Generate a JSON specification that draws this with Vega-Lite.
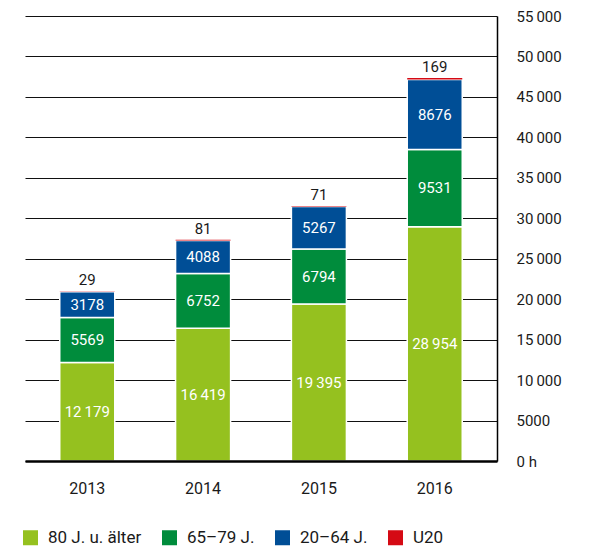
{
  "$schema": "https://vega.github.io/schema/vega-lite/v6.json",
  "width": 472,
  "height": 445,
  "autosize": {"type": "none"},
  "padding": {"left": 25, "top": 16, "right": 92, "bottom": 88},
  "background": "white",
  "config": {"font": "Roboto", "view": {"stroke": null}},
  "data": {
    "values": [
      {"year": "2013", "group": "80 J. u. älter", "k": 1, "value": 12179},
      {"year": "2013", "group": "65–79 J.", "k": 2, "value": 5569},
      {"year": "2013", "group": "20–64 J.", "k": 3, "value": 3178},
      {"year": "2014", "group": "80 J. u. älter", "k": 1, "value": 16419},
      {"year": "2014", "group": "65–79 J.", "k": 2, "value": 6752},
      {"year": "2014", "group": "20–64 J.", "k": 3, "value": 4088},
      {"year": "2015", "group": "80 J. u. älter", "k": 1, "value": 19395},
      {"year": "2015", "group": "65–79 J.", "k": 2, "value": 6794},
      {"year": "2015", "group": "20–64 J.", "k": 3, "value": 5267},
      {"year": "2016", "group": "80 J. u. älter", "k": 1, "value": 28954},
      {"year": "2016", "group": "65–79 J.", "k": 2, "value": 9531},
      {"year": "2016", "group": "20–64 J.", "k": 3, "value": 8676},
      {"year": "2013", "group": "U20", "k": 4, "value": 29},
      {"year": "2014", "group": "U20", "k": 4, "value": 81},
      {"year": "2015", "group": "U20", "k": 4, "value": 71},
      {"year": "2016", "group": "U20", "k": 4, "value": 169}
    ]
  },
  "transform": [
    {"stack": "value", "groupby": ["year"], "sort": [{"field": "k"}], "as": ["y0", "y1"]},
    {"calculate": "(datum.y0 + datum.y1) / 2", "as": "ymid"},
    {"calculate": "datum.value >= 10000 ? replace(format(datum.value, ','), ',', '\u2009') : format(datum.value, 'd')", "as": "label"}
  ],
  "encoding": {
    "x": {
      "field": "year",
      "type": "nominal",
      "scale": {"paddingInner": 0.525, "paddingOuter": 0.3},
      "axis": {
        "orient": "bottom",
        "title": null,
        "labelAngle": 0,
        "domainColor": "black",
        "domainWidth": 2.5,
        "ticks": false,
        "labelFontSize": 16,
        "labelColor": "#1a1a1a",
        "labelPadding": 19,
        "zindex": 2
      }
    }
  },
  "layer": [
    {
      "mark": {"type": "bar", "stroke": "white", "minBandSize": 2},
      "encoding": {
        "y": {
          "field": "y0",
          "type": "quantitative",
          "scale": {"domain": [0, 55000], "nice": false},
          "axis": {
            "orient": "right",
            "title": null,
            "values": [0, 5000, 10000, 15000, 20000, 25000, 30000, 35000, 40000, 45000, 50000, 55000],
            "labelExpr": "datum.value == 0 ? '0 h' : datum.value >= 10000 ? replace(format(datum.value, ','), ',', '\u2009') : format(datum.value, 'd')",
            "grid": true,
            "gridColor": "#111",
            "gridWidth": 1,
            "domainColor": "black",
            "domainWidth": 1.5,
            "ticks": false,
            "labelFontSize": 15,
            "labelColor": "#1a1a1a",
            "labelAlign": "left",
            "labelPadding": 19
          }
        },
        "y2": {"field": "y1"},
        "order": {"field": "k"},
        "color": {
          "field": "group",
          "type": "nominal",
          "sort": ["80 J. u. älter", "65–79 J.", "20–64 J.", "U20"],
          "scale": {
            "domain": ["80 J. u. älter", "65–79 J.", "20–64 J.", "U20"],
            "range": ["#95c11f", "#008c3c", "#004e96", "#d50a14"]
          },
          "legend": {
            "orient": "none",
            "direction": "horizontal",
            "legendX": -3,
            "legendY": 513,
            "title": null,
            "symbolType": "square",
            "symbolSize": 225,
            "symbolStrokeWidth": 0,
            "labelFontSize": 17,
            "labelColor": "#1a1a1a",
            "labelOffset": 9,
            "columnPadding": 19
          }
        },
        "strokeWidth": {"condition": {"test": "datum.k == 4", "value": 0}, "value": 1.5}
      }
    },
    {
      "transform": [{"filter": "datum.k < 4"}],
      "mark": {"type": "text", "color": "white", "fontSize": 15},
      "encoding": {
        "y": {"field": "ymid", "type": "quantitative"},
        "text": {"field": "label"}
      }
    },
    {
      "transform": [{"filter": "datum.k == 4"}],
      "mark": {"type": "text", "color": "#1a1a1a", "fontSize": 15, "baseline": "bottom", "dy": -3},
      "encoding": {
        "y": {"field": "y1", "type": "quantitative"},
        "text": {"field": "label"}
      }
    }
  ]
}
